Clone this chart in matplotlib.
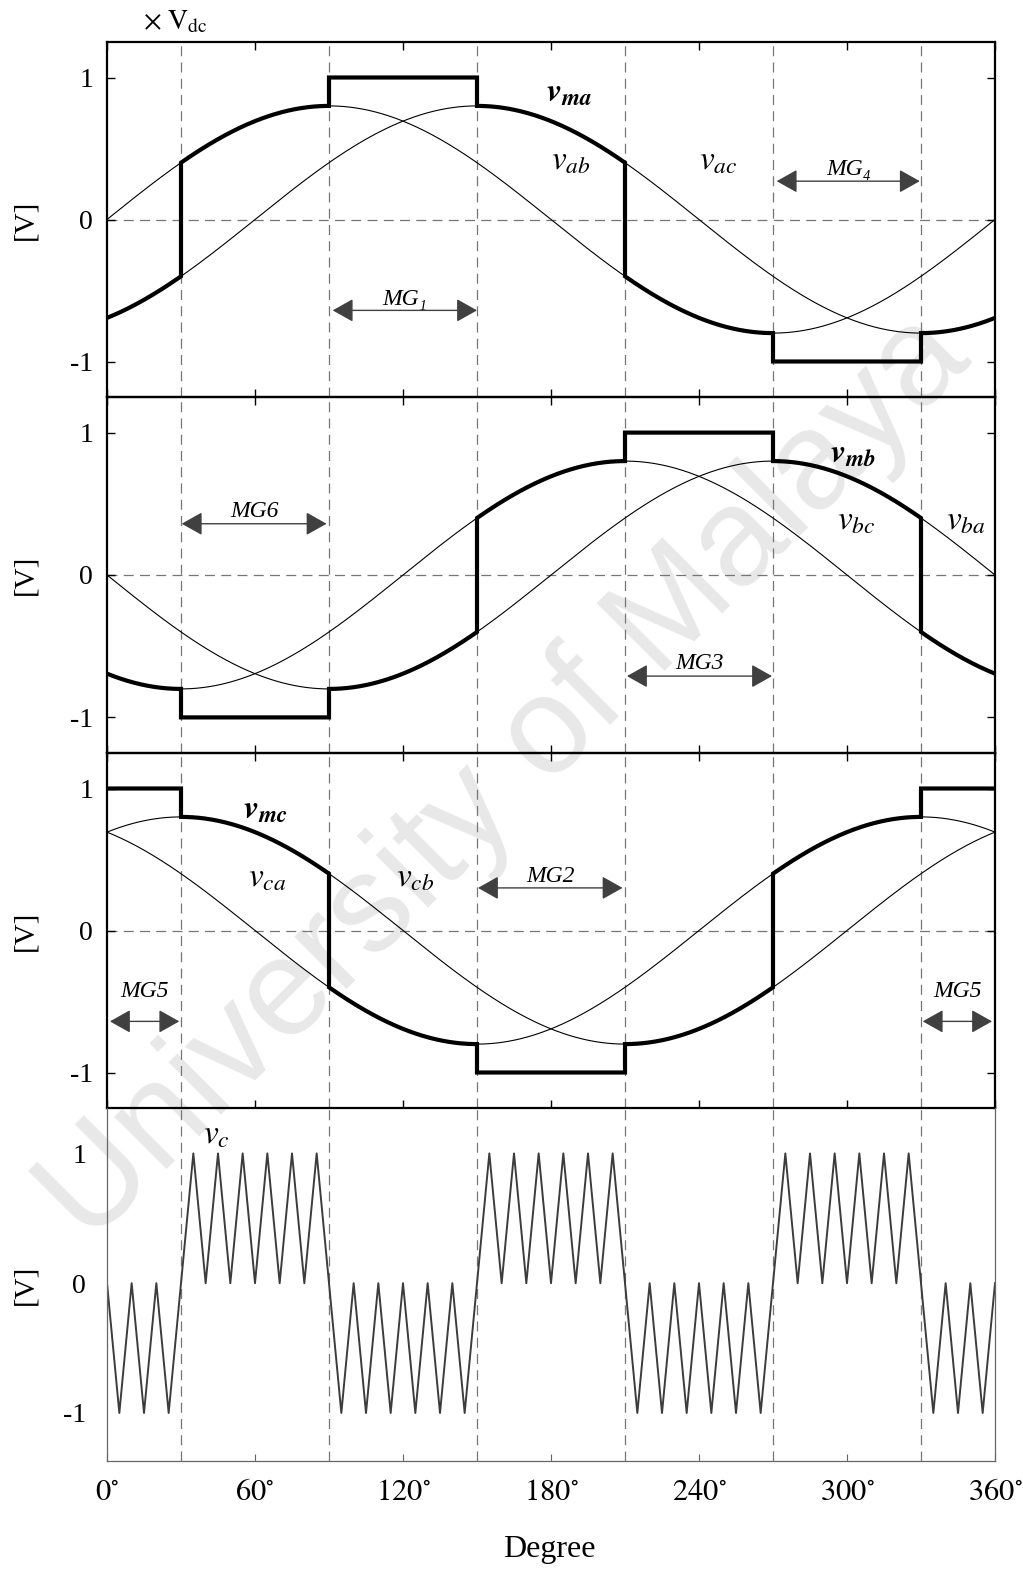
import numpy as np
import matplotlib
matplotlib.use("Agg")
import matplotlib.pyplot as plt

plt.rcParams['font.family'] = ['Liberation Serif', 'DejaVu Serif']
plt.rcParams['mathtext.fontset'] = 'stix'

# 60-degree sector boundaries (deg)
sector_edges = [0, 30, 90, 150, 210, 270, 330, 360]

# line-to-line references, peak in units of Vdc
ref_amp = 0.8
ref_names = ['ab', 'ac', 'ba', 'bc', 'ca', 'cb']
ref_phases = [0, -60, -180, -120, 120, 60]

# modulating signal per sector: a reference name or a clamped level
seq_a = ['ac', 'ab', 1, 'ac', 'ab', -1, 'ac']
seq_b = ['bc', -1, 'ba', 'bc', 1, 'ba', 'bc']
seq_c = [1, 'cb', 'ca', -1, 'cb', 'ca', 1]

# level-shifted carrier: band sign per sector, period in degrees
carrier_sign = [-1, 1, -1, 1, -1, 1, -1]
carrier_period = 10

xtick_vals = [0, 60, 120, 180, 240, 300, 360]

theta = np.linspace(0, 360, 1441)


def ref(name, th):
    ph = ref_phases[ref_names.index(name)]
    return ref_amp * np.sin(np.radians(th + ph))


def modulating(seq):
    xs, ys = [], []
    for k, src in enumerate(seq):
        th = np.linspace(sector_edges[k], sector_edges[k + 1], 200)
        if isinstance(src, str):
            val = ref(src, th)
        else:
            val = np.full_like(th, float(src))
        xs.append(th)
        ys.append(val)
    return np.concatenate(xs), np.concatenate(ys)


W, H = 1023, 1573
left, right = 107, 995
edges_px = [42, 397, 753, 1108, 1461]

fig = plt.figure(figsize=(W / 100, H / 100), dpi=100)
fig.patch.set_facecolor('white')

fig.text(0.495, 0.505, 'University of Malaya', rotation=45, fontsize=100,
         color='#e8e8e8', family='Liberation Sans', ha='center', va='center',
         zorder=-1)

axes = []
for i in range(4):
    b = 1 - edges_px[i + 1] / H
    h = (edges_px[i + 1] - edges_px[i]) / H
    ax = fig.add_axes([left / W, b, (right - left) / W, h])
    ax.set_facecolor('none')
    axes.append(ax)

dash = (0, (8, 5))
grey = '#767676'

for ax in axes[:3]:
    ax.set_xlim(0, 360)
    ax.set_ylim(-1.25, 1.25)
    for s in ax.spines.values():
        s.set_linewidth(1.6)
    ax.set_xticks(xtick_vals)
    ax.set_xticklabels([])
    ax.set_yticks([-1, 0, 1])
    ax.set_yticklabels(['-1', '0', '1'])
    ax.tick_params(direction='in', top=True, right=True, length=6, width=1,
                   labelsize=20, pad=10)
    ax.axhline(0, color=grey, lw=0.9, ls=dash, zorder=1)

for ax in axes:
    for e in sector_edges[1:-1]:
        ax.axvline(e, color=grey, lw=0.9, ls=dash, zorder=1)

# phase panels
panels = [(axes[0], ('ab', 'ac'), seq_a),
          (axes[1], ('bc', 'ba'), seq_b),
          (axes[2], ('ca', 'cb'), seq_c)]
for ax, pair, seq in panels:
    for name in pair:
        ax.plot(theta, ref(name, theta), color='black', lw=0.8, zorder=2)
    mx, my = modulating(seq)
    ax.plot(mx, my, color='black', lw=3.0, zorder=3, solid_joinstyle='miter')

lab = dict(fontsize=24, ha='left', va='baseline')
axes[0].text(178, 0.83, r'$\mathbfit{v}_{\mathbfit{ma}}$', **lab)
axes[0].text(180, 0.35, r'$v_{ab}$', **lab)
axes[0].text(240, 0.35, r'$v_{ac}$', **lab)
axes[1].text(293, 0.79, r'$\mathbfit{v}_{\mathbfit{mb}}$', **lab)
axes[1].text(296, 0.32, r'$v_{bc}$', **lab)
axes[1].text(340, 0.32, r'$v_{ba}$', **lab)
axes[2].text(55, 0.79, r'$\mathbfit{v}_{\mathbfit{mc}}$', **lab)
axes[2].text(57, 0.31, r'$v_{ca}$', **lab)
axes[2].text(117, 0.31, r'$v_{cb}$', **lab)


def mg(ax, x0, x1, y, label, ly):
    ax.annotate('', xy=(x1, y), xytext=(x0, y),
                arrowprops=dict(arrowstyle='<|-|>,head_length=0.8,head_width=0.45',
                                color='#404040', lw=1.0, mutation_scale=16,
                                shrinkA=0, shrinkB=0), zorder=4)
    ax.text((x0 + x1) / 2, ly, label, fontsize=17, style='italic',
            ha='center', va='baseline')


mg(axes[0], 91.5, 150, -0.64, 'MG\u2081', -0.60)
mg(axes[0], 271.5, 329.5, 0.27, 'MG\u2084', 0.31)
mg(axes[1], 30.3, 89, 0.36, 'MG6', 0.41)
mg(axes[1], 210.8, 269.6, -0.71, 'MG3', -0.66)
mg(axes[2], 150.4, 209, 0.30, 'MG2', 0.345)
mg(axes[2], 1.2, 29.3, -0.64, 'MG5', -0.47)
mg(axes[2], 330.7, 358.8, -0.64, 'MG5', -0.47)

# carrier panel
ax = axes[3]
vt = np.arange(0, 361, carrier_period / 2)
sec = np.clip(np.searchsorted(sector_edges, vt, side='right') - 1, 0, 6)
vv = np.where(vt % carrier_period == 0, 0.0, np.array(carrier_sign)[sec])
ax.plot(vt, vv, color='#3c3c3c', lw=1.4, zorder=2)
ax.text(39, 1.08, r'$v_c$', **lab)

ax.set_xlim(0, 360)
ax.set_ylim(-1.37, 1.35)
for s in ax.spines.values():
    s.set_color('#666666')
    s.set_linewidth(0.9)
ax.spines['top'].set_visible(False)
ax.set_yticks([-1, 0, 1])
ax.set_yticklabels(['-1', '0', '1'])
ax.tick_params(axis='y', length=0, labelsize=20, pad=15)
ax.set_xticks(xtick_vals)
ax.set_xticklabels([r'$%d^{\circ}$' % v for v in xtick_vals])
ax.tick_params(axis='x', direction='in', length=5, width=0.8, color='#666666',
               labelsize=22, pad=12)

for i in range(4):
    yc = 1 - (edges_px[i] + edges_px[i + 1]) / 2 / H
    fig.text(25 / W, yc, '[V]', rotation=90, fontsize=21, ha='center', va='center')

fig.text(549 / W, 1 - 1550 / H, 'Degree', fontsize=23, ha='center', va='center')
fig.text(175 / W, 1 - 22 / H, r'$\times\ \mathrm{V}_{\mathrm{dc}}$', fontsize=20,
         ha='center', va='center')

fig.savefig('out.png', dpi=100)
